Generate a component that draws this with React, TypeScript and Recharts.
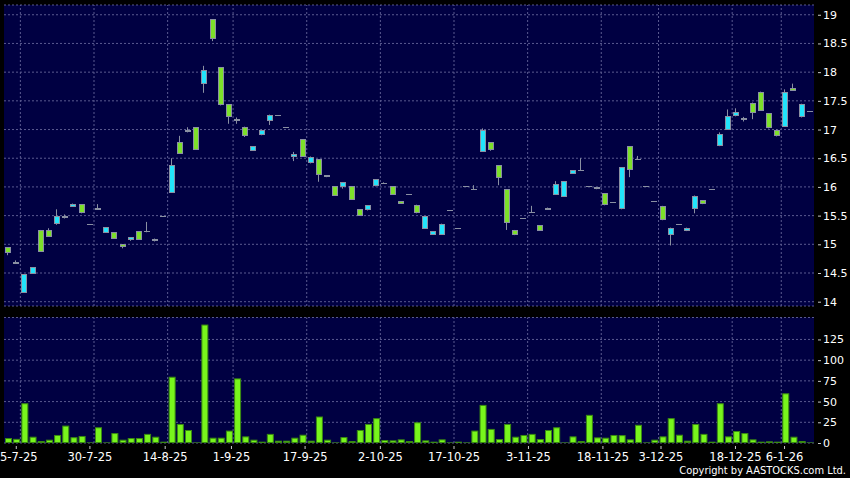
import React from 'react';
import { ComposedChart, Bar, XAxis, YAxis, CartesianGrid, ReferenceLine } from 'recharts';

// daily candles, oldest first (HKD)
const openP = [
  14.95, 14.67, 14.16, 14.49, 15.25, 15.25, 15.35, 15.45, 15.65, 15.7,
  15.36, 15.64, 15.2, 15.21, 15.0, 15.08, 15.23, 15.24, 15.1, 15.5,
  15.9, 16.78, 17.0, 17.04, 17.8, 18.92, 18.09, 17.44, 17.19, 17.05,
  16.63, 16.9, 17.14, 17.25, 17.04, 16.53, 16.83, 16.41, 16.48, 16.17,
  16.01, 16.0, 16.01, 15.61, 15.59, 16.01, 16.08, 16.01, 15.75, 15.87,
  15.69, 15.27, 15.17, 15.17, 15.59, 15.28, 16.01, 15.97, 16.61, 16.78,
  16.38, 15.96, 15.25, 15.45, 15.56, 15.33, 15.64, 15.86, 15.83, 16.23,
  16.29, 16.02, 15.96, 15.89, 15.73, 15.61, 16.71, 16.5, 16.01, 15.76,
  15.67, 15.16, 15.35, 15.23, 15.61, 15.77, 15.97, 16.71, 17.0, 17.23,
  17.17, 17.47, 17.66, 17.28, 17.0, 17.05, 17.73, 17.21, 17.32,
];
const highP = [
  14.95, 14.72, 14.48, 14.6, 15.25, 15.28, 15.61, 15.52, 15.71, 15.7,
  15.36, 15.7, 15.3, 15.21, 15.0, 15.12, 15.23, 15.39, 15.1, 15.5,
  16.5, 16.89, 17.04, 17.04, 18.11, 18.92, 18.09, 17.44, 17.21, 17.05,
  16.71, 17.0, 17.26, 17.25, 17.04, 16.61, 16.83, 16.53, 16.48, 16.2,
  16.01, 16.08, 16.01, 15.61, 15.68, 16.13, 16.08, 16.01, 15.75, 15.87,
  15.69, 15.49, 15.23, 15.36, 15.59, 15.28, 16.01, 16.03, 17.02, 16.78,
  16.38, 15.96, 15.25, 15.45, 15.67, 15.33, 15.64, 16.1, 16.1, 16.29,
  16.5, 16.02, 16.0, 15.89, 15.73, 16.34, 16.71, 16.54, 16.01, 15.76,
  15.67, 15.29, 15.35, 15.29, 15.85, 15.77, 15.97, 16.95, 17.35, 17.37,
  17.22, 17.47, 17.66, 17.28, 17.0, 17.7, 17.8, 17.45, 17.32,
];
const lowP = [
  14.81, 14.67, 14.16, 14.49, 14.87, 15.13, 15.34, 15.45, 15.65, 15.54,
  15.36, 15.61, 15.2, 15.1, 14.93, 15.06, 15.08, 15.21, 15.05, 15.5,
  15.9, 16.58, 16.95, 16.65, 17.64, 18.54, 17.42, 17.1, 17.1, 16.87,
  16.63, 16.9, 17.08, 17.25, 17.04, 16.45, 16.53, 16.41, 16.09, 16.17,
  15.85, 15.97, 15.78, 15.5, 15.59, 16.01, 16.06, 15.86, 15.71, 15.87,
  15.54, 15.27, 15.17, 15.17, 15.59, 15.28, 16.01, 15.95, 16.61, 16.63,
  16.03, 15.25, 15.16, 15.45, 15.55, 15.24, 15.61, 15.86, 15.83, 16.23,
  16.29, 16.02, 15.96, 15.68, 15.73, 15.61, 16.17, 16.48, 16.01, 15.76,
  15.42, 14.98, 15.35, 15.23, 15.54, 15.7, 15.97, 16.71, 17.0, 17.23,
  17.14, 17.18, 17.33, 17.02, 16.88, 17.05, 17.68, 17.21, 17.32,
];
const closeP = [
  14.85, 14.7, 14.48, 14.6, 14.87, 15.13, 15.49, 15.49, 15.71, 15.55,
  15.36, 15.61, 15.3, 15.1, 14.96, 15.12, 15.08, 15.22, 15.05, 15.5,
  16.38, 16.58, 16.95, 16.65, 18.04, 18.57, 17.42, 17.21, 17.16, 16.89,
  16.71, 17.0, 17.26, 17.25, 17.04, 16.57, 16.53, 16.53, 16.2, 16.2,
  15.85, 16.08, 15.78, 15.5, 15.68, 16.13, 16.06, 15.86, 15.71, 15.87,
  15.54, 15.49, 15.23, 15.36, 15.59, 15.28, 16.01, 15.95, 16.99, 16.65,
  16.15, 15.38, 15.16, 15.45, 15.55, 15.24, 15.61, 16.05, 16.1, 16.29,
  16.29, 16.02, 16.0, 15.68, 15.73, 16.34, 16.29, 16.48, 16.01, 15.76,
  15.42, 15.29, 15.35, 15.29, 15.85, 15.7, 15.97, 16.92, 17.23, 17.3,
  17.2, 17.28, 17.33, 17.02, 16.88, 17.65, 17.68, 17.45, 17.32,
];
// volume in thousand shares
const volume = [
  6, 5, 48, 7.6, 2.4, 4, 9.7, 21, 7, 8.5,
  0, 19, 0, 12, 4, 6, 6, 11, 7.6, 1.6,
  80, 23, 15.7, 0, 143, 6.4, 6.4, 15, 78, 8,
  4, 1.6, 11, 2.8, 2.8, 6.4, 10, 2.8, 32, 4,
  0, 7.2, 2.4, 15.7, 23, 30, 3.6, 3.2, 4.4, 2.4,
  25, 3.2, 1.6, 4.4, 0, 1.6, 0, 15, 46, 17,
  4.8, 23, 7.6, 9.7, 11, 4.8, 15.7, 19, 0, 8,
  2.4, 34, 6.8, 6.4, 9.7, 9.5, 4.4, 22, 0, 4,
  8, 30, 10, 2.8, 23, 11, 1.6, 48, 8, 14.5,
  12, 4.4, 1.6, 2, 1.6, 60, 7.6, 2.4, 0,
];

const dateLabels = ['5-7-25', '30-7-25', '14-8-25', '1-9-25', '17-9-25', '2-10-25', '17-10-25', '3-11-25', '18-11-25', '3-12-25', '18-12-25', '6-1-26'];
// where each date label sits, in candle units
const dateTicks = [1, 10, 19.2, 27.3, 36.3, 45.5, 54.5, 63.6, 72.7, 79.8, 88.9, 94.9];
// vertical grid lines fall between candles
const gridDays = [1.5, 10.5, 19.5, 27.5, 36.5, 45.5, 54.5, 63.5, 72.5, 79.5, 88.5, 94.5];
const priceTicks = [14, 14.5, 15, 15.5, 16, 16.5, 17, 17.5, 18, 18.5, 19];
const volTicks = [0, 25, 50, 75, 100, 125];

const rows = openP.map((o, i) => ({
  i,
  o,
  h: highP[i],
  l: lowP[i],
  c: closeP[i],
  v: volume[i],
}));

const NAVY = '#000042';
const GRID = '#5a5a90';
const EDGE = '#8a90a2';
const UP = '#22e4fb';
const DOWN = '#7de02a';
const FONT = 'DejaVu Sans';

const Candle = (props: any) => {
  const { x, y, width, height, payload } = props;
  const { o, h, l, c } = payload;
  const cx = Math.round(x + width / 2);
  const ratio = h > l ? height / (h - l) : 0;
  const yOf = (p: number) => y + (h - p) * ratio;
  const top = yOf(Math.max(o, c));
  const bot = yOf(Math.min(o, c));
  const wick = h > l ? (
    <line x1={cx - 0.5} x2={cx - 0.5} y1={y} y2={y + height} stroke={EDGE} strokeWidth={1} />
  ) : null;
  if (bot - top < 1.2) {
    const yy = Math.round((top + bot) / 2) + 0.5;
    return (
      <g>
        {wick}
        <line x1={cx - 3} x2={cx + 3} y1={yy} y2={yy} stroke={EDGE} strokeWidth={1} />
      </g>
    );
  }
  const t = Math.round(top) + 0.5;
  const b = Math.max(Math.round(bot) - 0.5, t + 1);
  return (
    <g>
      {wick}
      <rect x={cx - 2.5} y={t} width={5} height={b - t} fill={c > o ? UP : DOWN} stroke={EDGE} strokeWidth={1} />
    </g>
  );
};

const VolBar = (props: any) => {
  const { x, y, width, height } = props;
  if (!height || height < 1) {
    return <line x1={x} x2={x + width} y1={y + (height || 0) - 0.5} y2={y + (height || 0) - 0.5} stroke="#2c5a2c" />;
  }
  return (
    <rect x={x + 0.5} y={y + 0.5} width={width - 1} height={height - 1} fill="#78f51c" stroke="#3a8a12" strokeWidth={1} />
  );
};

const RightTick = (props: any) => {
  const { x, y, payload } = props;
  return (
    <g>
      <line x1={x + 4} x2={x + 7} y1={y + 0.5} y2={y + 0.5} stroke="#c8c8c8" />
      <text x={x + 9} y={y + 4} fill="#ffffff" fontSize={11} fontFamily={FONT}>
        {String(payload.value)}
      </text>
    </g>
  );
};

const DateTick = (props: any) => {
  const { x, y, payload } = props;
  const k = dateTicks.indexOf(payload.value);
  // the first label is pushed inside the left edge
  const atEdge = x < 22;
  return (
    <g>
      <line x1={x} x2={x} y1={y + 3} y2={y + 6} stroke="#c8c8c8" />
      <text
        x={atEdge ? 0 : x}
        y={y + 18}
        textAnchor={atEdge ? 'start' : 'middle'}
        fill="#ffffff"
        fontSize={11.5}
        fontFamily={FONT}
      >
        {dateLabels[k]}
      </text>
    </g>
  );
};

export default function App() {
  return (
    <div style={{ position: 'relative', width: 850, height: 478, background: '#000', overflow: 'hidden' }}>
      <style>{'body{margin:0;background:#000}'}</style>
      <div style={{ position: 'absolute', left: 0, top: 0 }}>
        <ComposedChart width={850} height={310} data={rows} margin={{ top: 5, right: 0, bottom: 4, left: 4 }}>
          <CartesianGrid vertical={false} stroke={GRID} strokeDasharray="2 2" fill={NAVY} fillOpacity={1} />
          <XAxis dataKey="i" type="category" hide height={0} />
          <XAxis xAxisId="n" dataKey="i" type="number" domain={[-0.5, 98.5]} allowDataOverflow hide height={0} />
          <YAxis
            orientation="right"
            domain={[13.925, 19.17]}
            allowDataOverflow
            ticks={priceTicks}
            interval={0}
            width={36}
            axisLine={false}
            tickLine={false}
            tickSize={0}
            tickMargin={0}
            tick={<RightTick />}
          />
          {gridDays.map((d) => (
            <ReferenceLine key={`pg-${d}`} xAxisId="n" x={d} stroke={GRID} strokeDasharray="2 2" />
          ))}
          <Bar dataKey={(r: any) => [r.l, r.h]} shape={<Candle />} barSize={6} isAnimationActive={false} />
        </ComposedChart>
      </div>
      <div style={{ position: 'absolute', left: 0, top: 310 }}>
        <ComposedChart width={850} height={168} data={rows} margin={{ top: 7.5, right: 0, bottom: 0, left: 4 }}>
          <CartesianGrid vertical={false} stroke={GRID} strokeDasharray="2 2" fill={NAVY} fillOpacity={1} />
          <XAxis
            xAxisId="n"
            dataKey="i"
            type="number"
            domain={[-0.5, 98.5]}
            allowDataOverflow
            ticks={dateTicks}
            interval={0}
            height={35}
            axisLine={false}
            tickLine={false}
            tickSize={0}
            tickMargin={0}
            tick={<DateTick />}
          />
          <XAxis dataKey="i" type="category" hide height={0} />
          <YAxis
            orientation="right"
            domain={[0, 151.5]}
            allowDataOverflow
            ticks={volTicks}
            interval={0}
            width={36}
            axisLine={false}
            tickLine={false}
            tickSize={0}
            tickMargin={0}
            tick={<RightTick />}
          />
          {gridDays.map((d) => (
            <ReferenceLine key={`vg-${d}`} xAxisId="n" x={d} stroke={GRID} strokeDasharray="2 2" />
          ))}
          <Bar dataKey="v" shape={<VolBar />} barSize={7} isAnimationActive={false} />
        </ComposedChart>
      </div>
      <div
        style={{
          position: 'absolute',
          right: 4,
          top: 464,
          color: '#fff',
          fontFamily: 'DejaVu Sans Condensed, DejaVu Sans',
          fontSize: 11,
          lineHeight: '14px',
          whiteSpace: 'nowrap',
        }}
      >
        Copyright by AASTOCKS.com Ltd.
      </div>
    </div>
  );
}
